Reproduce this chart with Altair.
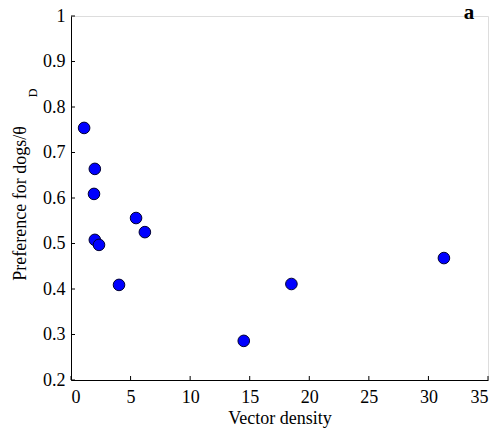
import altair as alt
import pandas as pd

density = [1.1, 2.0, 1.93, 2.0, 2.35, 5.46, 6.2, 4.03, 14.5, 18.5, 31.3]
preference = [0.754, 0.664, 0.609, 0.508, 0.497, 0.556, 0.525, 0.409, 0.286, 0.411, 0.468]
x_ticks = [0, 5, 10, 15, 20, 25, 30, 35]
y_ticks = [0.2, 0.3, 0.4, 0.5, 0.6, 0.7, 0.8, 0.9, 1.0]

df = pd.DataFrame({"x": density, "y": preference})
W, H = 417, 364
FONT = "Liberation Serif"

xs = alt.Scale(domain=[0, 35], nice=False, zero=False)
ys = alt.Scale(domain=[0.2, 1.0], nice=False, zero=False)

axis_common = dict(tickSize=0, grid=False, labelFont=FONT, titleFont=FONT,
                   labelFontSize=18, titleFontSize=18, titleFontWeight="normal",
                   domainColor="black", labelColor="black", titleColor="black")

points = alt.Chart(df).mark_circle(
    size=135, color="#0000FF", stroke="#000033", strokeWidth=1, opacity=1
).encode(
    x=alt.X("x:Q", scale=xs, title="Vector density",
            axis=alt.Axis(values=x_ticks, format="d", labelPadding=8,
                          titlePadding=3, **axis_common)),
    y=alt.Y("y:Q", scale=ys, title="Preference for dogs/θ",
            axis=alt.Axis(values=y_ticks, format=".1~f", labelPadding=6,
                          titleX=-46, titleY=187, titleAlign="center",
                          titleBaseline="alphabetic", **axis_common)),
)

xt = pd.DataFrame({"t": x_ticks})
yt = pd.DataFrame({"t": y_ticks})
xticks = alt.Chart(xt).mark_rule(color="black", strokeWidth=1).encode(
    x=alt.X("t:Q", scale=xs), y=alt.value(H), y2=alt.value(H - 4))
yticks = alt.Chart(yt).mark_rule(color="black", strokeWidth=1).encode(
    y=alt.Y("t:Q", scale=ys), x=alt.value(0), x2=alt.value(4))

sub = alt.Chart(pd.DataFrame({"s": ["D"]})).mark_text(
    font=FONT, fontSize=12, angle=270, align="center", baseline="middle", color="black"
).encode(text="s:N", x=alt.value(-38), y=alt.value(77))

label = alt.Chart(pd.DataFrame({"s": ["a"]})).mark_text(
    font=FONT, fontSize=21, fontWeight="bold", align="center", baseline="middle", color="black"
).encode(text="s:N", x=alt.value(398), y=alt.value(-3))

chart = alt.layer(xticks, yticks, points, sub, label).properties(
    width=W, height=H,
    autosize=alt.AutoSizeParams(type="none"),
    padding={"left": 71, "top": 16, "right": 11, "bottom": 58},
).configure_view(stroke=None).configure(font=FONT)

chart.save("out.html", embed_options={"renderer": "svg", "actions": False})
